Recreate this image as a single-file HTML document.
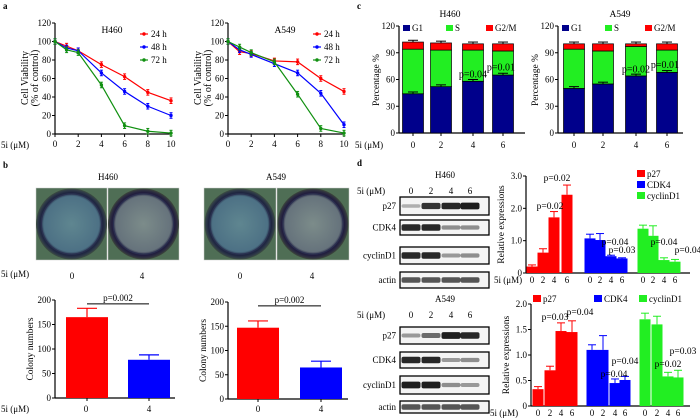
<!DOCTYPE html>
<html><head><meta charset="utf-8">
<style>
html,body{margin:0;padding:0;background:#fff;}
svg{display:block;font-family:"Liberation Serif",serif;}
</style></head>
<body>
<svg id="fig" width="700" height="420" viewBox="0 0 700 420" xmlns="http://www.w3.org/2000/svg">
<defs>
<radialGradient id="dish" cx="50%" cy="50%" r="50%">
<stop offset="0%" stop-color="#5f8690"/><stop offset="78%" stop-color="#4d7185"/><stop offset="88%" stop-color="#1e2440"/><stop offset="95%" stop-color="#2e3a48"/><stop offset="100%" stop-color="#3e5040"/>
</radialGradient>
<radialGradient id="dish2" cx="50%" cy="50%" r="50%">
<stop offset="0%" stop-color="#7c8c8a"/><stop offset="78%" stop-color="#66737c"/><stop offset="88%" stop-color="#201c3e"/><stop offset="95%" stop-color="#2e3040"/><stop offset="100%" stop-color="#3e4a3a"/>
</radialGradient>
</defs>
</svg>
<script>
// ---- Panel a data ----
const doseA = [0,1,2,4,6,8,10];
const h460_24 = [100,95,90,75,62,45,36];
const h460_48 = [100,93,90,66,46,30,20];
const h460_72 = [100,91,88,53,9,3,1];
const a549_24 = [100,89,87,79,78,60,46];
const a549_48 = [100,91,86,76,66,44,10];
const a549_72 = [100,94,88,78,43,6,1];
const viabTicks = [0,20,40,60,80,100,120];
const doseTicks = [0,2,4,6,8,10];
// ---- Panel b data ----
const colonyCats = ['0','4'];
const colonyH460 = [165,78];
const colonyH460Err = [183,88];
const colonyA549 = [147,65];
const colonyA549Err = [161,78];
const colonyTicks = [0,50,100,150,200];
// ---- Panel c data ----
const cycleDoses = ['0','2','4','6'];
const h460G1 = [44,52,58,65];
const h460S = [50,41,35,27];
const h460G2 = [8,8,7,8];
const a549G1 = [50,55,64,68];
const a549S = [44,37,33,25];
const a549G2 = [6,8,3,7];
const pctTicks = [0,30,60,90,120];
// ---- Panel d data ----
const protNames = ['p27','CDK4','cyclinD1'];
const dH460 = [[0.2,0.63,1.72,2.42],[1.07,1.02,0.52,0.45],[1.37,1.15,0.40,0.35]];
const dH460Err = [[0.25,0.75,1.9,2.72],[1.2,1.22,0.55,0.47],[1.48,1.46,0.47,0.42]];
const dA549 = [[0.33,0.7,1.47,1.45],[1.1,1.1,0.45,0.51],[1.7,1.6,0.58,0.56]];
const dA549Err = [[0.38,0.78,1.63,1.67],[1.2,1.38,0.53,0.58],[1.82,1.76,0.66,0.7]];
const relTicksH = [0,1.0,2.0,3.0];
const relTicksA = [0,0.5,1.0,1.5,2.0];

const NS='http://www.w3.org/2000/svg';
const svg=document.getElementById('fig');
function el(tag,attrs,parent){const e=document.createElementNS(NS,tag);for(const k in attrs)e.setAttribute(k,attrs[k]);(parent||svg).appendChild(e);return e;}
function txt(s,x,y,size,anchor,parent,weight){const t=el('text',{x:x,y:y,'font-size':size,'text-anchor':anchor||'start','fill':'#000'},parent);if(weight)t.setAttribute('font-weight',weight);t.textContent=s;return t;}
function lin(x1,y1,x2,y2,c,w,parent){return el('line',{x1:x1,y1:y1,x2:x2,y2:y2,stroke:c||'#000','stroke-width':w||1},parent);}
function linear(d0,d1,r0,r1){return v=>r0+(v-d0)/(d1-d0)*(r1-r0);}

[['a',3,9],['b',3,168],['c',357,9],['d',357,166]].forEach(p=>{const t=txt(p[0],p[1],p[2],9,'start',svg,'bold');});

// ---- Panel a ----
function lineChart(name,x0,x1,title,series,titleX){
  const g=el('g',{});
  
  
  const xs=linear(0,10,x0,x1), ys=linear(0,120,134,23);
  lin(x0,23,x0,134,'#000',1.2,g);lin(x0,134,x1,134,'#000',1.2,g);
  viabTicks.forEach(v=>{lin(x0-3,ys(v),x0,ys(v),'#000',1,g);txt(String(v),x0-4,ys(v)+3,9,'end',g);});
  doseTicks.forEach(v=>{lin(xs(v),134,xs(v),137,'#000',1,g);txt(String(v),xs(v),147,9,'middle',g);});
  const yt=txt('Cell Viability',x0-27,78,10,'middle',g);yt.setAttribute('transform','rotate(-90 '+(x0-27)+' 78)');
  const yt2=txt('(% of control)',x0-17,78,10,'middle',g);yt2.setAttribute('transform','rotate(-90 '+(x0-17)+' 78)');
  txt(title,titleX,33,9.5,'middle',g);
  const cols=['#ff0000','#0000ff','#109010'];const labs=['24 h','48 h','72 h'];
  series.forEach((s,i)=>{
    const pts=doseA.map((d,j)=>xs(d)+','+ys(s[j])).join(' ');
    const pl=el('polyline',{points:pts,fill:'none',stroke:cols[i],'stroke-width':1.2},g);
    
    
    doseA.forEach((d,j)=>{
      lin(xs(d),ys(s[j]+3),xs(d),ys(s[j]-3),cols[i],1,g);
      lin(xs(d)-1.5,ys(s[j]+3),xs(d)+1.5,ys(s[j]+3),cols[i],1,g);
      lin(xs(d)-1.5,ys(s[j]-3),xs(d)+1.5,ys(s[j]-3),cols[i],1,g);
      el('circle',{cx:xs(d),cy:ys(s[j]),r:1.7,fill:cols[i]},g);
    });
    const ly=37+i*13;
    lin(x1-31,ly-3,x1-23,ly-3,cols[i],1.2,g);el('circle',{cx:x1-27,cy:ly-3,r:1.7,fill:cols[i]},g);
    const lt=txt(labs[i],x1-20,ly,9,'start',g);
  });
}
lineChart('viability-h460',55,171,'H460',[h460_24,h460_48,h460_72],112);
lineChart('viability-a549',228,344,'A549',[a549_24,a549_48,a549_72],285);
txt('5i (μM)',1,148,9,'start');

// ---- Panel b dishes ----
function dish(x,y,w,grad,name){
  const g=el('g',{});
  el('rect',{x:x,y:y,width:w,height:72,fill:'#4f6e55',stroke:'#ccc','stroke-width':0.5},g);
  el('circle',{cx:x+w/2,cy:y+36,r:35.5,fill:'url(#'+grad+')'},g);
  el('circle',{cx:x+w/2,cy:y+36,r:30,fill:'none',stroke:'#2a3050','stroke-width':1},g);
}
dish(36,188,71,'dish','dish-h460-0');dish(108,188,71,'dish2','dish-h460-4');
dish(204,188,72,'dish','dish-a549-0');dish(277,188,72,'dish2','dish-a549-4');
txt('H460',108,180,9,'middle');txt('A549',276,180,9,'middle');
txt('5i (μM)',1,277,9,'start');
[[72,'0'],[142,'4'],[240,'0'],[312,'4']].forEach(a=>txt(a[1],a[0],279,9,'middle'));

// colony bars
function colonyChart(name,x0,y0,y1,vals,errs,bx){
  const g=el('g',{});
  const ys=linear(0,200,y0,y1);
  lin(x0,y1,x0,y0,'#000',1.2,g);lin(x0,y0,x0+120,y0,'#000',1.2,g);
  colonyTicks.forEach(v=>{lin(x0-3,ys(v),x0,ys(v),'#000',1,g);txt(String(v),x0-4,ys(v)+3,9,'end',g);});
  const cols=['#ff0000','#0000ff'];
  vals.forEach((v,i)=>{
    const r=el('rect',{x:bx[i],y:ys(v),width:42,height:y0-ys(v),fill:cols[i]},g);
    
    const cx=bx[i]+21;lin(cx,ys(v),cx,ys(errs[i]),cols[i],1.2,g);lin(cx-10,ys(errs[i]),cx+10,ys(errs[i]),cols[i],1.2,g);
    lin(cx,y0,cx,y0+3,'#000',1,g);
  });
  lin(bx[0]+21,ys(192),bx[1]+21,ys(192),'#000',1,g);
  txt('p=0.002',(bx[0]+bx[1])/2+21,ys(192)-3,9,'middle',g);
  const yt=txt('Colony numbers',x0-22,(y0+y1)/2,9.5,'middle',g);yt.setAttribute('transform','rotate(-90 '+(x0-22)+' '+(y0+y1)/2+')');
}
colonyChart('colony-h460',55,398,300,colonyH460,colonyH460Err,[66,128]);
colonyChart('colony-a549',228,399,302,colonyA549,colonyA549Err,[237,300]);
txt('5i (μM)',1,412,9,'start');
[[86,'0'],[149,'4'],[258,'0'],[321,'4']].forEach(a=>txt(a[1],a[0],412,9,'middle'));

// ---- Panel c ----
function cycleChart(name,x0,x1,title,titleX,g1,s,g2,centers,pvals){
  const g=el('g',{});
  const ys=linear(0,120,133,26);
  lin(x0,26,x0,133,'#000',1.2,g);lin(x0,133,x1,133,'#000',1.2,g);
  pctTicks.forEach(v=>{lin(x0-3,ys(v),x0,ys(v),'#000',1,g);txt(String(v),x0-4,ys(v)+3,9,'end',g);});
  const yt=txt('Percentage %',x0-20,80,9.5,'middle',g);yt.setAttribute('transform','rotate(-90 '+(x0-20)+' 80)');
  txt(title,titleX,17,9.5,'middle',g);
  const w=21;
  cycleDoses.forEach((d,i)=>{
    const cx=centers[i];const a=g1[i],b=a+s[i],c=b+g2[i];
    [[0,a,'#00008b','g1'],[a,b,'#22ee22','s'],[b,c,'#ff0000','g2m']].forEach(seg=>{
      const r=el('rect',{x:cx-w/2,y:ys(seg[1]),width:w,height:ys(seg[0])-ys(seg[1]),fill:seg[2],stroke:'#000','stroke-width':0.7},g);
      
    });
    lin(cx,ys(a),cx,ys(a+2),'#000',1,g);lin(cx-5,ys(a+2),cx+5,ys(a+2),'#000',1,g);
    lin(cx,ys(c),cx,ys(c+2),'#000',1,g);lin(cx-5,ys(c+2),cx+5,ys(c+2),'#000',1,g);
    lin(cx,133,cx,136,'#000',1,g);
    txt(d,cx,148,9,'middle',g);
  });
  txt(pvals[0],centers[2],ys(g1[2]+4),10,'middle',g);
  txt(pvals[1],centers[3]-2,ys(g1[3]+5),10,'middle',g);
  const legX=[x0+4,x0+47,x0+87],legL=['G1','S','G2/M'],legC=['#00008b','#22ee22','#ff0000'];
  legX.forEach((lx,i)=>{el('rect',{x:lx,y:25,width:7,height:6,fill:legC[i]},g);const t=txt(legL[i],lx+9,31,9,'start',g);});
}
cycleChart('cycle-h460',399,525,'H460',450,h460G1,h460S,h460G2,[413,441,473,503],['p=0.04','p=0.01']);
cycleChart('cycle-a549',558,683,'A549',620,a549G1,a549S,a549G2,[574,603,636,667],['p=0.02','p=0.01']);
txt('5i (μM)',355,148,9,'start');

// ---- Panel d blots ----
function blot(name,title,titleY,rows,lanes,intens){
  const g=el('g',{});
  txt(title,445,titleY,9,'middle',g);
  txt('5i (μM)',357,titleY+16,9,'start',g);
  lanes.forEach((lx,i)=>txt(['0','2','4','6'][i],lx,titleY+16,9,'middle',g));
  const names=['p27','CDK4','cyclinD1','actin'];
  rows.forEach((r,k)=>{
    el('rect',{x:400,y:r[0],width:89,height:r[1]-r[0],fill:'#f4f4f4',stroke:'#000','stroke-width':1.3},g);
    txt(names[k],396,(r[0]+r[1])/2+3,9,'end',g);
    lanes.forEach((lx,i)=>{const op=intens[k][i];el('rect',{x:lx-9.5,y:(r[0]+r[1])/2-(1+op*2.5),width:19,height:2+op*5,rx:2,fill:'#111','fill-opacity':op},g);});
  });
}
blot('western-h460','H460',178,[[197,215],[220,235],[247,264],[272,288]],[411,431,451,470],
  [[0.3,0.85,0.9,0.95],[0.9,0.9,0.45,0.45],[0.9,0.9,0.4,0.45],[0.7,0.7,0.7,0.7]]);
blot('western-a549','A549',302,[[327,344],[352,368],[376,394],[401,413]],[411,431,451,470],
  [[0.4,0.6,0.95,0.9],[0.9,0.9,0.4,0.45],[0.95,0.95,0.45,0.4],[0.7,0.7,0.7,0.7]]);

// ---- Panel d bars ----
function exprChart(name,x0,y0,y1,max,ticks,vals,errs,centers,legendPos,pv,xlabX){
  const g=el('g',{});
  const ys=linear(0,max,y0,y1);
  lin(x0,y1,x0,y0,'#000',1.2,g);lin(x0,y0,690,y0,'#000',1.2,g);
  ticks.forEach(v=>{lin(x0-3,ys(v),x0,ys(v),'#000',1,g);txt(v===0?'0':v.toFixed(1),x0-4,ys(v)+3,9,'end',g);});
  const yt=txt('Relative expressions',x0-22,(y0+y1)/2,9.5,'middle',g);yt.setAttribute('transform','rotate(-90 '+(x0-22)+' '+(y0+y1)/2+')');
  const cols=['#ff0000','#0000ff','#22ee22'];
  vals.forEach((arr,p)=>arr.forEach((v,i)=>{
    const cx=centers[p][i];
    const r=el('rect',{x:cx-5.5,y:ys(v),width:11,height:y0-ys(v),fill:cols[p]},g);
    
    lin(cx,ys(v),cx,ys(errs[p][i]),cols[p],1,g);lin(cx-4,ys(errs[p][i]),cx+4,ys(errs[p][i]),cols[p],1,g);
    txt(['0','2','4','6'][i],cx,y0+10,9,'middle',g);
  }));
  txt('5i (μM)',xlabX,y0+10,9,'start',g);
  legendPos.forEach((lp,i)=>{el('rect',{x:lp[0],y:lp[1]-7,width:8,height:7,fill:cols[i]},g);const t=txt(protNames[i],lp[0]+10,lp[1],9,'start',g);});
  pv.forEach(p=>txt(p[0],p[1],p[2],9.5,'middle',g));
}
exprChart('expression-h460',526,273,176,3.0,relTicksH,dH460,dH460Err,
  [[532,543,554,567],[590,600,611,622],[643,653,664,675]],
  [[637,177],[637,188],[637,199]],
  [['p=0.02',557,181],['p=0.02',550,209],['p=0.04',615,245],['p=0.03',622,253],['p=0.04',664,245],['p=0.04',688,253]],494);
exprChart('expression-a549',531,406,304,2.0,relTicksA,dA549,dA549Err,
  [[538,550,561,572],[592,603,615,625],[645,657,668,678]],
  [[533,302],[594,302],[639,302]],
  [['p=0.03',555,320],['p=0.04',580,315],['p=0.04',625,364],['p=0.04',614,377],['p=0.03',683,354],['p=0.02',668,367]],490);
</script>
</body></html>
